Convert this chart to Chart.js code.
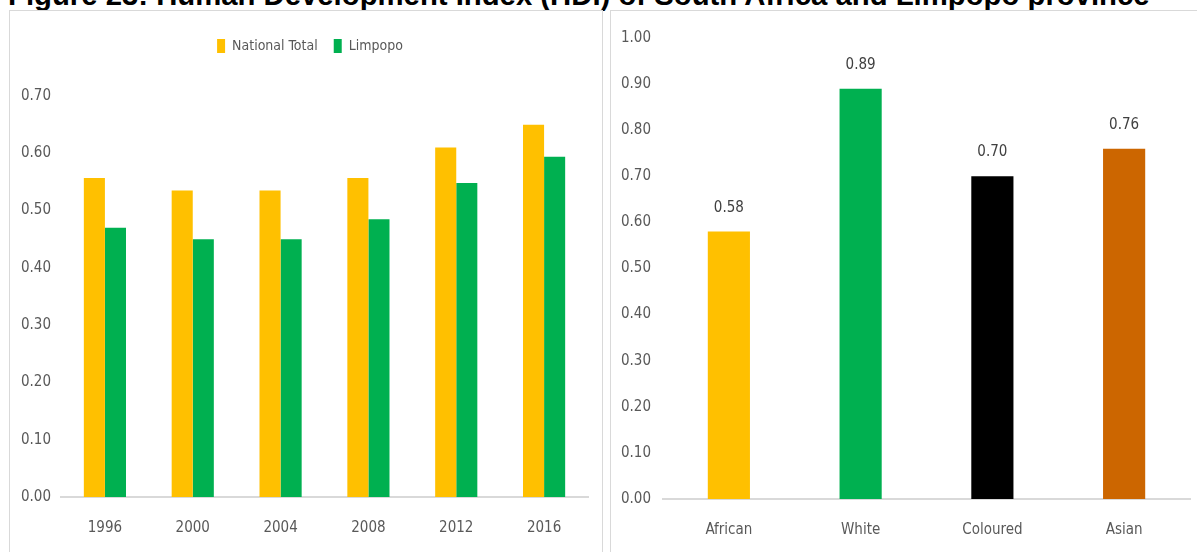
<!DOCTYPE html>
<html>
<head>
<meta charset="utf-8">
<script src="https://cdn.jsdelivr.net/npm/chart.js@4.4.1/dist/chart.umd.min.js"></script>
<style>
  body { margin: 0; width: 1197px; height: 552px; overflow: hidden; background: #fff; position: relative; }
  #title { position: absolute; left: 8px; top: -22px; font: bold 29.3px "Liberation Sans", Arial, sans-serif; white-space: nowrap; color: #000; }
  .box { position: absolute; top: 10px; height: 560px; border: 1px solid #d9d9d9; background: #fff; }
  #leftBox { left: 9px; width: 592px; }
  #rightBox { left: 610px; width: 600px; }
</style>
</head>
<body>
<div id="title">Figure 23: Human Development Index (HDI) of South Africa and Limpopo province</div>
<div class="box" id="leftBox"><canvas id="trend" width="592" height="560"></canvas></div>
<div class="box" id="rightBox"><canvas id="groups" width="587" height="560"></canvas></div>
<script>
const years = ['1996', '2000', '2004', '2008', '2012', '2016'];
const nationalTotal = [0.557, 0.535, 0.535, 0.557, 0.61, 0.65];
const limpopo = [0.47, 0.45, 0.45, 0.485, 0.548, 0.594];
const trendTicks = [0, 0.1, 0.2, 0.3, 0.4, 0.5, 0.6, 0.7];

const groups = ['African', 'White', 'Coloured', 'Asian'];
const hdiByGroup = [0.58, 0.89, 0.70, 0.76];
const groupColors = ['#FFC000', '#00B050', '#000000', '#CC6600'];
const groupTicks = [0, 0.1, 0.2, 0.3, 0.4, 0.5, 0.6, 0.7, 0.8, 0.9, 1.0];

const FONT = '"Liberation Sans Narrow", "DejaVu Sans Condensed", "Liberation Sans", sans-serif';
const GREY = '#595959';

Chart.defaults.animation = false;
Chart.defaults.responsive = false;
Chart.defaults.font.family = FONT;
Chart.defaults.font.size = 15;
Chart.defaults.color = GREY;

const fmt = v => Number(v).toFixed(2);

// extra room under the legend and a small nudge right, like the Excel original
const legendGap = {
  id: 'legendGap',
  beforeInit(chart) {
    const fit = chart.legend.fit;
    chart.legend.fit = function () {
      fit.bind(chart.legend)();
      this.height += 33;
    };
  },
  afterLayout(chart) {
    chart.legend.left += 11;
    chart.legend.right += 11;
  }
};

new Chart(document.getElementById('trend'), {
  type: 'bar',
  data: {
    labels: years,
    datasets: [
      { label: 'National Total', data: nationalTotal, backgroundColor: '#FFC000' },
      { label: 'Limpopo', data: limpopo, backgroundColor: '#00B050' }
    ]
  },
  options: {
    layout: { padding: { top: 12, right: 14, bottom: 0, left: 0 } },
    datasets: { bar: { categoryPercentage: 0.48, barPercentage: 1.0 } },
    plugins: {
      legend: {
        position: 'top',
        labels: { boxWidth: 8, boxHeight: 14, padding: 16, color: GREY, font: { size: 14 } }
      },
      tooltip: { enabled: false }
    },
    scales: {
      x: {
        grid: { display: false, drawTicks: false },
        border: { color: '#d9d9d9', width: 2 },
        ticks: { padding: 22, color: GREY },
        afterFit: s => { s.height = 74; }
      },
      y: {
        min: 0, max: 0.7,
        afterBuildTicks: s => { s.ticks = trendTicks.map(v => ({ value: v })); },
        grid: { display: false, drawTicks: false },
        border: { display: false },
        ticks: { callback: fmt, padding: 10, color: GREY },
        afterFit: s => { s.width = 51; }
      }
    }
  },
  plugins: [legendGap]
});

const barValueLabels = {
  id: 'barValueLabels',
  afterDatasetsDraw(chart) {
    const ctx = chart.ctx;
    const meta = chart.getDatasetMeta(0);
    ctx.save();
    ctx.font = '15px ' + FONT;
    ctx.fillStyle = '#404040';
    ctx.textAlign = 'center';
    ctx.textBaseline = 'middle';
    meta.data.forEach((bar, i) => ctx.fillText(fmt(hdiByGroup[i]), bar.x, bar.y - 24));
    ctx.restore();
  }
};

new Chart(document.getElementById('groups'), {
  type: 'bar',
  data: {
    labels: groups,
    datasets: [{ data: hdiByGroup, backgroundColor: groupColors }]
  },
  options: {
    layout: { padding: { top: 27, right: 8, bottom: 0, left: 0 } },
    datasets: { bar: { categoryPercentage: 0.32, barPercentage: 1.0 } },
    plugins: { legend: { display: false }, tooltip: { enabled: false } },
    scales: {
      x: {
        grid: { display: false, drawTicks: false },
        border: { color: '#d9d9d9', width: 2 },
        ticks: { padding: 22, color: GREY },
        afterFit: s => { s.height = 72; }
      },
      y: {
        min: 0, max: 1,
        afterBuildTicks: s => { s.ticks = groupTicks.map(v => ({ value: v })); },
        grid: { display: false, drawTicks: false },
        border: { display: false },
        ticks: { callback: fmt, padding: 12, color: GREY },
        afterFit: s => { s.width = 52; }
      }
    }
  },
  plugins: [barValueLabels]
});
</script>
</body>
</html>
